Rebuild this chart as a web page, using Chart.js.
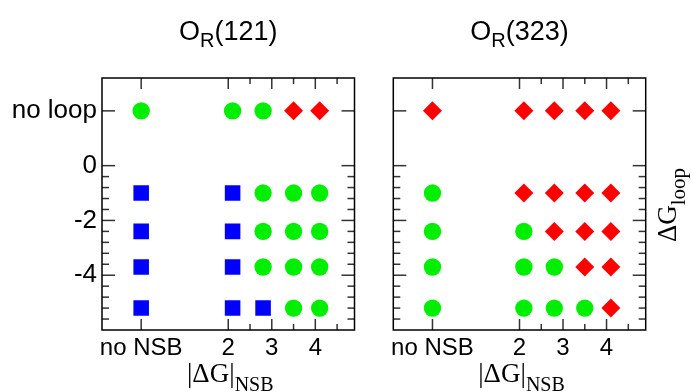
<!DOCTYPE html>
<html>
<head>
<meta charset="utf-8">
<script src="https://cdn.jsdelivr.net/npm/chart.js@4"></script>
<style>
  body { margin: 0; background: #fff; }
  #wrap { position: relative; width: 691px; height: 392px; }
  #wrap canvas { position: absolute; left: 0; top: 0; }
</style>
</head>
<body>
<div id="wrap">
  <canvas id="panel121" width="691" height="392"></canvas>
  <canvas id="panel323" width="691" height="392"></canvas>
</div>
<script>
// |dG|_NSB columns (0 = no NSB) and dG_loop rows (2 = no loop)
const nsbValues = [0, 2.1, 2.8, 3.5, 4.1];
const loopValues = [2, -1, -2.4, -3.7, -5.2];

// one string per loop row, one letter per NSB column
// G = green circle, B = blue square, R = red diamond
const outcome121 = ["GGGRR", "BBGGG", "BBGGG", "BBGGG", "BBBGG"];
const outcome323 = ["RRRRR", "GRRRR", "GGRRR", "GGGRR", "GGGGR"];

const xTicks = [0, 2, 3, 4];
const xTickLabels = ["no NSB", "2", "3", "4"];
const xMinorTicks = [2.5, 3.5, 4.5];
const yTicks = [2, 0, -2, -4];
const yTickLabels = ["no loop", "0", "-2", "-4"];
const yMinorTicks = [-0.4, -0.8, -1.2, -1.6, -2.4, -2.8, -3.2, -3.6, -4.4, -4.8, -5.2, -5.6];

const markerStyles = {
  G: { pointStyle: "circle", color: "#00ee00", radius: 8.7 },
  B: { pointStyle: "rect", color: "#0000ff", radius: 11 },
  R: { pointStyle: "rectRot", color: "#ff0000", radius: 9.5 },
};

const SANS = "'Liberation Sans', Arial, sans-serif";
const SERIF = "'Liberation Serif', 'Times New Roman', serif";

Chart.defaults.font.family = SANS;
Chart.defaults.color = "#000";

function buildDatasets(outcome) {
  return Object.keys(markerStyles).map((key) => {
    const st = markerStyles[key];
    const points = [];
    loopValues.forEach((y, row) => {
      nsbValues.forEach((x, col) => {
        if (outcome[row][col] === key) points.push({ x: x, y: y });
      });
    });
    return {
      data: points,
      pointStyle: st.pointStyle,
      pointRadius: st.radius,
      pointBackgroundColor: st.color,
      pointBorderColor: st.color,
      pointBorderWidth: 0,
      showLine: false,
    };
  });
}

// text made of pieces (main text + subscript), centred on x
function drawPieces(ctx, x, y, pieces) {
  let total = 0;
  pieces.forEach((p) => {
    ctx.font = p.font;
    total += ctx.measureText(p.text).width;
  });
  let cx = x - total / 2;
  ctx.textAlign = "left";
  ctx.textBaseline = "alphabetic";
  pieces.forEach((p) => {
    ctx.font = p.font;
    ctx.fillText(p.text, cx, y + (p.dy || 0));
    cx += ctx.measureText(p.text).width;
  });
}

// box, inward ticks and titles
const framePlugin = {
  id: "frame",
  afterDraw(chart, args, opts) {
    const { ctx, chartArea: a } = chart;
    const x = chart.scales.x;
    const y = chart.scales.y;
    ctx.save();
    ctx.lineWidth = 1.5;
    ctx.strokeStyle = "#333";
    const tick = (px, py, dx, dy) => {
      ctx.beginPath();
      ctx.moveTo(px, py);
      ctx.lineTo(px + dx, py + dy);
      ctx.stroke();
    };
    yTicks.forEach((v) => {
      const py = y.getPixelForValue(v);
      tick(a.left, py, 13, 0);
      tick(a.right, py, -13, 0);
    });
    yMinorTicks.forEach((v) => {
      const py = y.getPixelForValue(v);
      tick(a.left, py, 7, 0);
      tick(a.right, py, -7, 0);
    });
    xTicks.forEach((v) => {
      const px = x.getPixelForValue(v);
      tick(px, a.top, 0, 11);
      tick(px, a.bottom, 0, -11);
    });
    xMinorTicks.forEach((v) => {
      const px = x.getPixelForValue(v);
      tick(px, a.top, 0, 6);
      tick(px, a.bottom, 0, -6);
    });
    ctx.strokeStyle = "#000";
    ctx.strokeRect(a.left, a.top, a.right - a.left, a.bottom - a.top);

    ctx.fillStyle = "#000";
    const cx = (a.left + a.right) / 2;
    drawPieces(ctx, cx, 40, [
      { text: "O", font: "27px " + SANS },
      { text: "R", font: "20px " + SANS, dy: 7 },
      { text: opts.title, font: "27px " + SANS },
    ]);
    drawPieces(ctx, cx + 2, 382, [
      { text: "|\u0394G|", font: "27px " + SERIF },
      { text: "NSB", font: "20px " + SERIF, dy: 9 },
    ]);
    if (opts.loopTitle) {
      ctx.translate(676, 205);
      ctx.rotate(-Math.PI / 2);
      drawPieces(ctx, 0, 0, [
        { text: "\u0394G", font: "27px " + SERIF },
        { text: "loop", font: "21px " + SERIF, dy: 9 },
      ]);
    }
    ctx.restore();
  },
};

function makePanel(canvasId, outcome, title, left, right, showYLabels) {
  return new Chart(document.getElementById(canvasId), {
    type: "scatter",
    data: { datasets: buildDatasets(outcome) },
    options: {
      responsive: false,
      animation: false,
      layout: { padding: { top: 78, right: 691 - right, left: 0, bottom: 0 } },
      plugins: {
        legend: { display: false },
        tooltip: { enabled: false },
        frame: { title: title, loopTitle: !showYLabels },
      },
      scales: {
        x: {
          type: "linear",
          min: -0.9,
          max: 4.9,
          grid: { display: false, drawTicks: false },
          border: { display: false },
          afterBuildTicks: (s) => {
            s.ticks = xTicks.map((v) => ({ value: v }));
          },
          afterFit: (s) => {
            s.height = 62;
          },
          ticks: {
            padding: 4,
            maxRotation: 0,
            autoSkip: false,
            font: { size: 24 },
            callback: (v) => xTickLabels[xTicks.indexOf(v)],
          },
        },
        y: {
          type: "linear",
          min: -6,
          max: 3.2,
          grid: { display: false, drawTicks: false },
          border: { display: false },
          afterBuildTicks: (s) => {
            s.ticks = yTicks.map((v) => ({ value: v }));
          },
          afterFit: (s) => {
            s.width = left;
          },
          ticks: {
            display: showYLabels,
            padding: 5,
            autoSkip: false,
            font: { size: 26 },
            callback: (v) => yTickLabels[yTicks.indexOf(v)],
          },
        },
      },
    },
    plugins: [framePlugin],
  });
}

makePanel("panel121", outcome121, "(121)", 102, 354.5, true);
makePanel("panel323", outcome323, "(323)", 393.3, 645.7, false);
</script>
</body>
</html>
